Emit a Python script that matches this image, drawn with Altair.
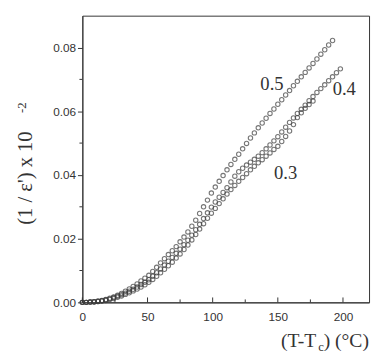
import altair as alt
import pandas as pd

# ---- data ----
x_05 = [0, 3, 6, 9, 12, 15, 18, 21, 24, 27, 30, 33, 36, 39, 42, 45, 48, 51, 54, 57,
        60, 63, 66, 69, 72, 75, 78, 81, 84, 87, 90, 93, 96, 99, 102, 105, 108, 111, 114, 117,
        120, 123, 126, 129, 132, 135, 138, 141, 144, 147, 150, 153, 156, 159, 162, 165, 168, 171, 174, 177,
        180, 183, 186, 189, 192]
y_05 = [0.0000, 0.0000, 0.0001, 0.0002, 0.0004, 0.0006, 0.0009, 0.0013, 0.0017, 0.0022,
        0.0028, 0.0035, 0.0042, 0.0050, 0.0058, 0.0067, 0.0076, 0.0085, 0.0097, 0.0110,
        0.0124, 0.0137, 0.0150, 0.0162, 0.0175, 0.0190, 0.0205, 0.0221, 0.0239, 0.0258,
        0.0279, 0.0300, 0.0321, 0.0343, 0.0362, 0.0380, 0.0398, 0.0416, 0.0433, 0.0449,
        0.0465, 0.0482, 0.0499, 0.0516, 0.0532, 0.0548, 0.0563, 0.0578, 0.0593, 0.0607,
        0.0622, 0.0636, 0.0651, 0.0665, 0.0680, 0.0694, 0.0708, 0.0722, 0.0736, 0.0750,
        0.0764, 0.0779, 0.0793, 0.0808, 0.0822]

x_04 = [0, 3, 6, 9, 12, 15, 18, 21, 24, 27, 30, 33, 36, 39, 42, 45, 48, 51, 54, 57,
        60, 63, 66, 69, 72, 75, 78, 81, 84, 87, 90, 93, 96, 99, 102, 105, 108, 111, 114, 117,
        120, 123, 126, 129, 132, 135, 138, 141, 144, 147, 150, 153, 156, 159, 162, 165, 168, 171, 174, 177,
        180, 183, 186, 189, 192, 195, 198]
y_04 = [0.0000, 0.0000, 0.0001, 0.0002, 0.0003, 0.0005, 0.0008, 0.0011, 0.0015, 0.0019,
        0.0024, 0.0029, 0.0035, 0.0041, 0.0048, 0.0056, 0.0063, 0.0071, 0.0082, 0.0093,
        0.0105, 0.0117, 0.0129, 0.0141, 0.0154, 0.0167, 0.0181, 0.0195, 0.0211, 0.0228,
        0.0245, 0.0263, 0.0281, 0.0299, 0.0315, 0.0330, 0.0345, 0.0360, 0.0378, 0.0396,
        0.0410, 0.0421, 0.0431, 0.0440, 0.0449, 0.0459, 0.0470, 0.0482, 0.0494, 0.0507,
        0.0520, 0.0535, 0.0550, 0.0565, 0.0579, 0.0593, 0.0606, 0.0619, 0.0633, 0.0646,
        0.0659, 0.0671, 0.0683, 0.0696, 0.0708, 0.0721, 0.0733]

x_03 = [0, 3, 6, 9, 12, 15, 18, 21, 24, 27, 30, 33, 36, 39, 42, 45, 48, 51, 54, 57,
        60, 63, 66, 69, 72, 75, 78, 81, 84, 87, 90, 93, 96, 99, 102, 105, 108, 111, 114, 117,
        120, 123, 126, 129, 132, 135, 138, 141, 144, 147, 150, 153, 156, 159, 162, 165, 168, 171, 174, 177]
y_03 = [0.0000, 0.0000, 0.0001, 0.0001, 0.0003, 0.0004, 0.0006, 0.0009, 0.0012, 0.0016,
        0.0020, 0.0025, 0.0030, 0.0036, 0.0042, 0.0048, 0.0055, 0.0063, 0.0072, 0.0082,
        0.0093, 0.0104, 0.0115, 0.0126, 0.0139, 0.0152, 0.0166, 0.0180, 0.0196, 0.0213,
        0.0230, 0.0247, 0.0264, 0.0280, 0.0295, 0.0310, 0.0325, 0.0340, 0.0354, 0.0367,
        0.0380, 0.0392, 0.0404, 0.0416, 0.0427, 0.0438, 0.0448, 0.0459, 0.0469, 0.0480,
        0.0490, 0.0505, 0.0521, 0.0538, 0.0558, 0.0580, 0.0595, 0.0609, 0.0621, 0.0632]

x_major = [0, 50, 100, 150, 200]
x_minor = [25, 75, 125, 175]
y_major = [0.00, 0.02, 0.04, 0.06, 0.08]
y_minor = [0.01, 0.03, 0.05, 0.07]

label_text = ["0.5", "0.4", "0.3"]
label_x = [145.5, 201.0, 156.0]
label_y = [0.0686, 0.0668, 0.0405]

# ---- styling ----
INK = "#333333"
PT = "#3d3d3d"
SANS = "Liberation Sans"
SERIF = "Liberation Serif"
W, H = 293, 293

df = pd.concat([
    pd.DataFrame({"T": x_05, "v": y_05, "s": "0.5"}),
    pd.DataFrame({"T": x_04, "v": y_04, "s": "0.4"}),
    pd.DataFrame({"T": x_03, "v": y_03, "s": "0.3"}),
], ignore_index=True)

xs = alt.Scale(domain=[0, 220], nice=False, zero=False)
ys = alt.Scale(domain=[0, 0.09], nice=False, zero=False)

xaxis = alt.Axis(values=x_major, format="d", ticks=False, labelPadding=10, title=None, grid=False,
                 labelFont=SANS, labelFontSize=12, labelColor=INK, domainColor=INK, labelFlush=False)
yaxis = alt.Axis(values=y_major, format=".2f", tickSize=5, tickColor=INK, labelPadding=2, title=None,
                 grid=False, labelFont=SANS, labelFontSize=12, labelColor=INK, domainColor=INK,
                 labelFlush=False)

points = alt.Chart(df).mark_point(
    shape="circle", filled=False, size=20, strokeWidth=1.1, color=PT
).encode(
    x=alt.X("T:Q", scale=xs, axis=xaxis),
    y=alt.Y("v:Q", scale=ys, axis=yaxis),
    detail="s:N",
)

xmaj = alt.Chart(pd.DataFrame({"T": x_major})).mark_rule(color=INK, strokeWidth=1).encode(
    x=alt.X("T:Q", scale=xs, axis=xaxis), y=alt.value(H), y2=alt.value(H - 5))
xmin = alt.Chart(pd.DataFrame({"T": x_minor})).mark_rule(color=INK, strokeWidth=1).encode(
    x=alt.X("T:Q", scale=xs, axis=xaxis), y=alt.value(H), y2=alt.value(H - 3))
ymin = alt.Chart(pd.DataFrame({"v": y_minor})).mark_rule(color=INK, strokeWidth=1).encode(
    y=alt.Y("v:Q", scale=ys, axis=yaxis), x=alt.value(-3), x2=alt.value(0))

labels = alt.Chart(pd.DataFrame({"t": label_text, "T": label_x, "v": label_y})).mark_text(
    font=SERIF, fontSize=19, color=INK, align="center", baseline="middle"
).encode(x=alt.X("T:Q", scale=xs, axis=xaxis), y=alt.Y("v:Q", scale=ys, axis=yaxis), text="t:N")

def note(txt, px, py, size, angle=0, align="left", baseline="alphabetic"):
    return alt.Chart(pd.DataFrame({"t": [txt]})).mark_text(
        font=SERIF, fontSize=size, color=INK, align=align, baseline=baseline, angle=angle
    ).encode(x=alt.value(px), y=alt.value(py), text="t:N")

ytitle = note("(1 / ε') x 10", -57, 166, 21, angle=270, align="center", baseline="middle")
ysup = note("-2", -62, 94, 13, angle=270, align="center", baseline="middle")
xt1 = note("(T-T", 203, 339, 20)
xt2 = note("c", 241, 343, 13)
xt3 = note(") (°C)", 246.6, 339, 20)

chart = alt.layer(points, xmaj, xmin, ymin, labels, ytitle, ysup, xt1, xt2, xt3).properties(
    width=W, height=H,
    padding={"left": 76, "top": 4, "right": 2, "bottom": 52},
    autosize=alt.AutoSizeParams(type="none"),
    background="white",
).configure_view(stroke=INK, strokeWidth=1)

chart.save("out.html", embed_options={"renderer": "svg", "actions": False})
